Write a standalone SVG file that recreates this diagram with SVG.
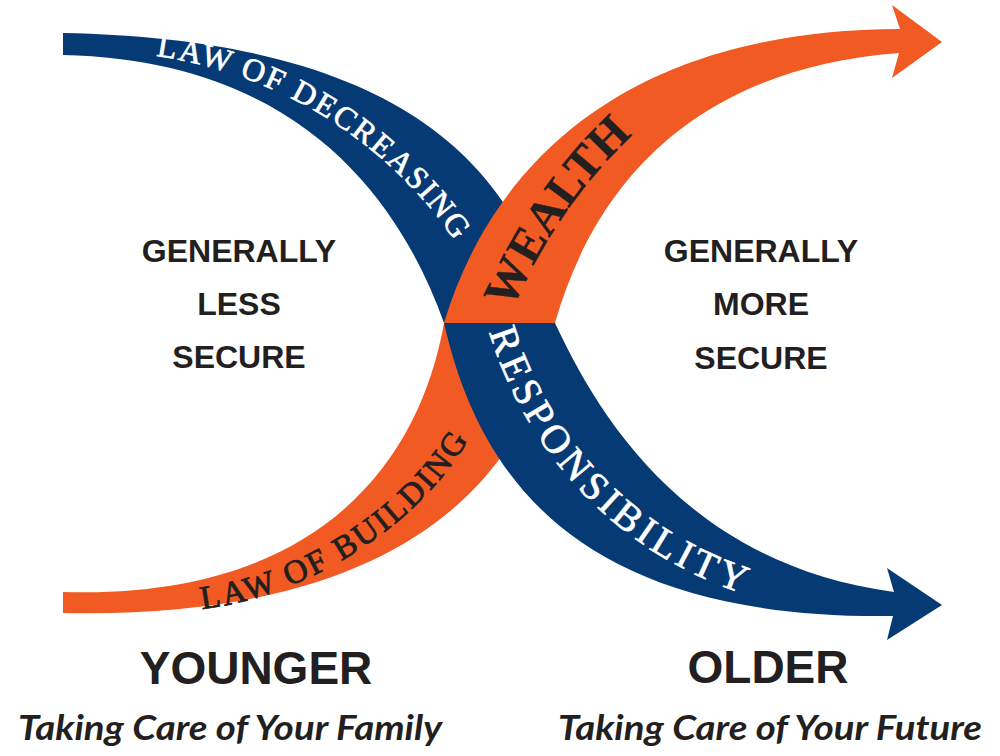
<svg xmlns="http://www.w3.org/2000/svg" width="1000" height="756" viewBox="0 0 1000 756">
  <style>
    .blue { fill: #063a74; }
    .orange { fill: #f15a22; }
    .band-white { font-family: "Liberation Serif", "Times New Roman", serif; fill: #ffffff; stroke: #ffffff; stroke-width: 0.7px; }
    .band-dark { font-family: "Liberation Serif", "Times New Roman", serif; fill: #231f20; stroke: #231f20; stroke-width: 0.9px; }
    .heavy { font-weight: bold; stroke-width: 0.4px; }
    .state { font-family: "Liberation Sans", Arial, sans-serif; font-weight: bold; font-size: 32px; fill: #231f20; text-anchor: middle; }
    .age { font-family: "Liberation Sans", Arial, sans-serif; font-weight: bold; font-size: 46px; fill: #231f20; text-anchor: middle; }
    .motto { font-family: Lato, "Open Sans", sans-serif; font-style: italic; font-weight: bold; font-size: 34px; fill: #231f20; }
  </style>
  <defs>
    <!-- baselines for the curved band labels -->
    <path id="p-decr" d="M 156,56 C 290,75 405,155 468,262"/>
    <path id="p-wealth" d="M 512,310 C 545,235 595,160 668,105"/>
    <path id="p-resp" d="M 489,332 C 526,452 620,565 775,603"/>
    <path id="p-build" d="M 202,609 C 310,596 432,520 480,418"/>
  </defs>

  <!-- bands: lower layer first -->
  <g id="bands">
    <path id="blue-upper" class="blue" d="M 63,33 C 420,40 520,180 555,323 L 444,323 C 400,200 300,60 63,55 Z"/>
    <path id="orange-lower" class="orange" d="M 63,592 C 320,600 420,460 444,323 L 555,323 C 530,480 400,620 63,613 Z"/>
    <path id="orange-upper" class="orange" d="M 444,323 C 490,170 620,30 900,29 L 892,5 L 942,42 L 892,78 L 899,53 C 680,70 590,200 555,323 Z"/>
    <path id="blue-lower" class="blue" d="M 444,323 C 480,480 580,620 893,616 L 887,640 L 942,605 L 887,568 L 894,592 C 690,565 600,420 555,323 Z"/>
  </g>

  <g id="band-labels">
    <text class="band-white" font-size="32" letter-spacing="2"><textPath href="#p-decr">LAW OF DECREASING</textPath></text>
    <text class="band-dark heavy" font-size="48" letter-spacing="0.5"><textPath href="#p-wealth">WEALTH</textPath></text>
    <text class="band-white" font-size="40" letter-spacing="4.5"><textPath href="#p-resp">RESPONSIBILITY</textPath></text>
    <text class="band-dark" font-size="33" letter-spacing="2.5"><textPath href="#p-build">LAW OF BUILDING</textPath></text>
  </g>

  <g id="left-state">
    <text class="state" x="239" y="262">GENERALLY</text>
    <text class="state" x="239" y="315">LESS</text>
    <text class="state" x="239" y="368">SECURE</text>
  </g>
  <g id="right-state">
    <text class="state" x="761" y="262">GENERALLY</text>
    <text class="state" x="761" y="315">MORE</text>
    <text class="state" x="761" y="369">SECURE</text>
  </g>

  <g id="younger">
    <text class="age" x="256" y="684">YOUNGER</text>
    <text class="motto" x="18" y="740" textLength="424" lengthAdjust="spacingAndGlyphs">Taking Care of Your Family</text>
  </g>
  <g id="older">
    <text class="age" x="768" y="683">OLDER</text>
    <text class="motto" x="558" y="740" textLength="424" lengthAdjust="spacingAndGlyphs">Taking Care of Your Future</text>
  </g>
</svg>
